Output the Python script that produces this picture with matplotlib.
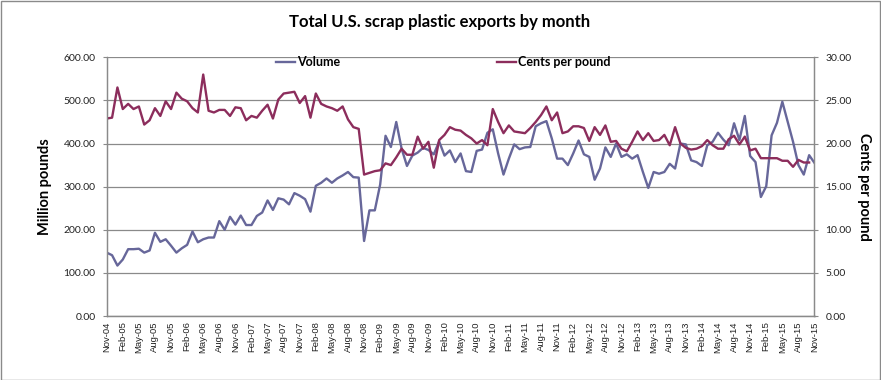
import matplotlib
matplotlib.use("Agg")
import matplotlib.pyplot as plt
import pandas as pd
from matplotlib.lines import Line2D
from matplotlib.patches import Rectangle

# ---- data ----
months = pd.date_range("2004-11-01", periods=133, freq="MS").strftime("%b-%y").tolist()

volume = [147, 141, 117, 131, 155, 155, 156, 147, 152, 193, 172, 178, 163, 147, 157, 165,
          196, 171, 178, 182, 182, 220, 200, 230, 212, 233, 211, 211, 232, 240, 268, 246,
          273, 270, 259, 285, 279, 271, 242, 302, 309, 319, 309, 319, 326, 334, 322, 321,
          174, 245, 245, 305, 418, 392, 450, 388, 348, 372, 379, 390, 385, 375, 405, 372,
          384, 357, 377, 336, 334, 383, 386, 425, 433, 377, 328, 365, 398, 387, 391, 392,
          440, 447, 452, 412, 365, 365, 350, 377, 407, 375, 369, 316, 342, 391, 369, 400,
          369, 375, 365, 373, 334, 297, 334, 330, 334, 353, 342, 400, 398, 361, 357, 348,
          396, 404, 425, 409, 396, 447, 408, 464, 371, 357, 276, 301, 419, 448, 497, 450,
          404, 350, 328, 373, 355]

cents = [22.9, 23.0, 26.5, 24.0, 24.6, 24.0, 24.3, 22.2, 22.7, 24.1, 23.2, 24.9, 24.0, 25.9,
         25.2, 24.9, 24.1, 23.6, 28.0, 23.8, 23.6, 23.9, 23.9, 23.2, 24.2, 24.1, 22.7, 23.2,
         23.0, 23.8, 24.5, 22.9, 25.1, 25.8, 25.9, 26.0, 24.7, 25.5, 23.0, 25.8, 24.6, 24.3,
         24.1, 23.8, 24.3, 22.8, 21.9, 21.7, 16.4, 16.6, 16.8, 16.9, 17.7, 17.5, 18.4, 19.4,
         18.7, 18.7, 20.8, 19.4, 20.2, 17.2, 20.4, 21.0, 21.9, 21.6, 21.5, 21.0, 20.6, 20.0,
         20.4, 19.8, 24.0, 22.5, 21.2, 22.1, 21.4, 21.3, 21.2, 21.8, 22.5, 23.3, 24.3, 22.7,
         23.6, 21.2, 21.4, 22.0, 22.0, 21.8, 20.3, 21.9, 21.0, 22.1, 20.2, 20.3, 19.4, 19.1,
         20.2, 21.4, 20.4, 21.2, 20.3, 20.4, 21.0, 19.8, 21.9, 20.0, 19.5, 19.3, 19.4, 19.7,
         20.4, 19.8, 19.4, 19.4, 20.5, 20.9, 19.9, 20.8, 19.2, 19.4, 18.3, 18.3, 18.3, 18.3,
         18.0, 18.0, 17.3, 18.1, 17.8, 17.8]

title = "Total U.S. scrap plastic exports by month"
left_label = "Million pounds"
right_label = "Cents per pound"
vol_name = "Volume"
cents_name = "Cents per pound"

# ---- style ----
W, H = 881, 380
VOL_C = "#67679a"
CENT_C = "#8c2d5c"
GRID_C = "#8a8a8a"
UI = ["Lato", "DejaVu Sans"]
XF = ["Liberation Sans", "DejaVu Sans"]

fig = plt.figure(figsize=(W / 100, H / 100), dpi=100)
ax_l, ax_r, ax_t, ax_b = 106.7, 814.5, 57.3, 316.0
ax = fig.add_axes([ax_l / W, 1 - ax_b / H, (ax_r - ax_l) / W, (ax_b - ax_t) / H])
ax2 = ax.twinx()

x = list(range(len(months)))
ax.plot(x[:len(volume)], volume, color=VOL_C, lw=1.7, solid_joinstyle="round")
ax2.plot(x[:len(cents)], cents, color=CENT_C, lw=1.7, solid_joinstyle="round")

ax.set_xlim(0, len(months) - 1)
ax.set_ylim(0, 600)
ax2.set_ylim(0, 30)
ax.set_yticks(range(0, 601, 100))
ax.set_yticklabels([f"{v:.2f}" for v in range(0, 601, 100)], family=UI, fontsize=7.5)
ax2.set_yticks(range(0, 31, 5))
ax2.set_yticklabels([f"{v:.2f}" for v in range(0, 31, 5)], family=UI, fontsize=7.5)
ax.set_xticks(x[::3])
ax.set_xticklabels(months[::3], rotation=90, family=XF, fontsize=6.8)

ax.grid(axis="y", color=GRID_C, lw=0.9)
ax.set_axisbelow(True)
for a in (ax, ax2):
    a.spines["top"].set_visible(False)
    for s in ("left", "right", "bottom"):
        a.spines[s].set_color(GRID_C)
        a.spines[s].set_linewidth(0.9)
ax.tick_params(axis="y", length=3, color=GRID_C, pad=5, labelcolor="#222222")
ax2.tick_params(axis="y", length=3, color=GRID_C, pad=5, labelcolor="#222222")
ax.tick_params(axis="x", length=0, pad=4, labelcolor="#222222")

ax.set_ylabel(left_label, family=UI, fontsize=10.5, fontweight="bold", labelpad=8)
ax2.set_ylabel(right_label, family=UI, fontsize=10.5, fontweight="bold", rotation=-90,
               va="bottom", labelpad=4)

fig.text(440 / W, 1 - 22 / H, title, ha="center", va="center", family=UI,
         fontsize=12, fontweight="bold")

handles = [Line2D([], [], color=VOL_C, lw=1.7), Line2D([], [], color=CENT_C, lw=1.7)]
leg = fig.legend(handles, [vol_name, cents_name], loc="upper left",
                 bbox_to_anchor=(276 / W, 1 - 56 / H), ncol=2, frameon=False,
                 borderpad=0, borderaxespad=0, handlelength=1.55, handletextpad=0.15,
                 columnspacing=12.5, prop={"family": UI, "weight": "bold", "size": 9})

fig.add_artist(Rectangle((0.5 / W, 0.5 / H), (W - 1.5) / W, (H - 1.5) / H,
                         transform=fig.transFigure, fill=False, edgecolor="#8a8a8a", lw=1))

fig.savefig("out.png", dpi=100)
